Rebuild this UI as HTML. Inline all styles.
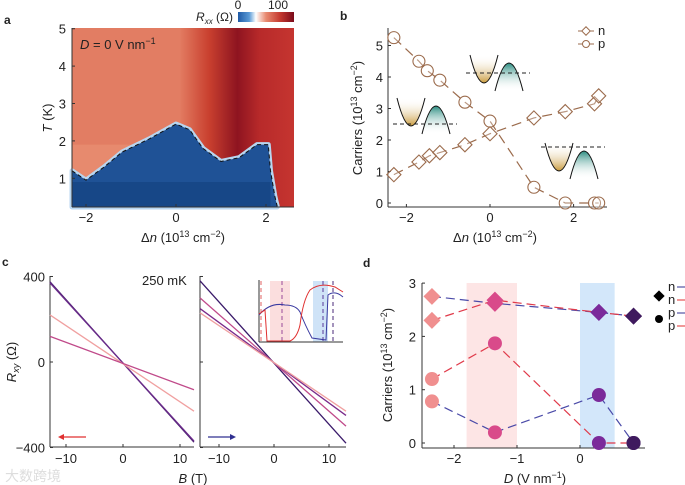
<!DOCTYPE html>
<html><head><meta charset="utf-8"><style>
body{margin:0;background:#fff;}
svg{display:block;font-family:"Liberation Sans","Noto Sans CJK SC",sans-serif;}
</style></head><body>
<svg id="fig" width="685" height="485" viewBox="0 0 685 485" xmlns="http://www.w3.org/2000/svg">
<defs>
<linearGradient id="cbar" x1="0" x2="1"><stop offset="0" stop-color="#1f5aa6"/><stop offset="0.2" stop-color="#5a9ad6"/><stop offset="0.32" stop-color="#ffffff"/><stop offset="0.5" stop-color="#e88a70"/><stop offset="0.75" stop-color="#c53a30"/><stop offset="1" stop-color="#7a0a1a"/></linearGradient>
<linearGradient id="redband" x1="0" x2="1"><stop offset="0" stop-color="#e27a60"/><stop offset="0.25" stop-color="#c9402f"/><stop offset="0.5" stop-color="#8e1420"/><stop offset="0.7" stop-color="#b82a2a"/><stop offset="1" stop-color="#c53530"/></linearGradient>
<linearGradient id="gold" x1="0" y1="0" x2="0" y2="1"><stop offset="0" stop-color="#fff" stop-opacity="0"/><stop offset="1" stop-color="#c99a3c"/></linearGradient>
<linearGradient id="teal" x1="0" y1="0" x2="0" y2="1"><stop offset="0" stop-color="#2a8c80"/><stop offset="1" stop-color="#fff" stop-opacity="0"/></linearGradient>
</defs>
</svg>
<script>
const NS="http://www.w3.org/2000/svg";
const svg=document.getElementById('fig');
function mk(tag,attrs,parent,txt){const e=document.createElementNS(NS,tag);for(const k in attrs)e.setAttribute(k,attrs[k]);if(txt!==undefined)e.textContent=txt;(parent||svg).appendChild(e);return e;}

// ---------- Panel a data ----------
const aBoundaryX=[-2.31,-2.0,-1.6,-1.2,-0.6,0.0,0.3,0.6,1.0,1.4,1.8,2.05,2.1,2.2,2.25];
const aBoundaryT=[1.2,0.95,1.3,1.7,2.05,2.45,2.3,1.8,1.45,1.55,1.9,1.9,1.2,0.5,0.25];
const aXTicks=[-2,0,2];
const aYTicks=[1,2,3,4,5];
// ---------- Panel b data ----------
const bX_n=[-2.3,-1.7,-1.45,-1.2,-0.6,0.0,1.05,1.8,2.5,2.6];
const bY_n=[0.9,1.3,1.5,1.6,1.85,2.2,2.7,2.9,3.15,3.4];
const bX_p=[-2.3,-1.7,-1.5,-1.2,-0.6,0.0,1.05,1.8,2.5,2.6];
const bY_p=[5.25,4.5,4.2,3.9,3.2,2.6,0.5,0.0,0.0,0.0];
const bXTicks=[-2,0,2];
const bYTicks=[0,1,2,3,4,5];
// ---------- Panel c data (endpoints at B=-13.5 and 13.5) ----------
const cLeftStart=[375,370,220,120];
const cLeftEnd=[-375,-370,-230,-130];
const cLeftColors=["#4a2070","#6a2a8a","#f0a0a0","#c04a8a"];
const cRightStart=[380,300,250,230];
const cRightEnd=[-380,-300,-250,-230];
const cRightColors=["#3a1a6a","#c04a8a","#7a2a8a","#f0a0a0"];
const cXTicks=[-10,0,10];
const cYTicks=[-400,0,400];
// ---------- Panel d data ----------
const dD=[-2.35,-1.35,0.3,0.85];
const dNfwd=[2.75,2.62,2.45,2.38];
const dNbwd=[2.3,2.68,2.45,2.38];
const dPfwd=[0.78,0.2,0.9,0.0];
const dPbwd=[1.2,1.87,0.0,0.0];
const dColors=["#f08f8f","#d94a8a","#7b2a9a","#3f1a5e"];
const dXTicks=[-2,-1,0];
const dYTicks=[0,1,2,3];

function txt(x,y,s,attrs,name){const t=mk('text',Object.assign({x:x,y:y,'font-size':13,fill:'#222'},attrs||{}),null,s);

return t;}

// ===== Panel a =====
const ax=v=>176+(v)*45, ay=v=>28.7+(5-v)*37.4;
txt(4,24,'a',{'font-weight':'bold','font-size':12},'panel-a-label');
const ga=mk('g',{});
mk('rect',{x:72,y:28,width:222,height:179,fill:'#e27d63'},ga);
mk('rect',{x:ax(0.1),y:28,width:294-ax(0.1),height:179,fill:'url(#redband)'},ga);
mk('rect',{x:72,y:ay(1.9),width:ax(0.1)-72,height:207-ay(1.9),fill:'#e78a6e'},ga);
let bp='M72 207 ';aBoundaryX.forEach((v,i)=>bp+='L'+ax(v)+' '+ay(aBoundaryT[i])+' ');bp+='L'+ax(2.25)+' 207Z';
mk('path',{d:bp,fill:'#2a5da3',stroke:'#b8d6f0','stroke-width':5,'stroke-linejoin':'round'},ga);
mk('path',{d:bp,fill:'#1f5296'},ga);
mk('rect',{x:72,y:ay(0.9),width:ax(2.1)-72,height:207-ay(0.9),fill:'#174787'},ga);
let dl='';aBoundaryX.forEach((v,i)=>dl+=(i?'L':'M')+ax(v)+' '+ay(aBoundaryT[i])+' ');
const dash=mk('path',{d:dl,fill:'none',stroke:'#111','stroke-width':1,'stroke-dasharray':'4 3'});
mk('line',{x1:72,y1:28,x2:72,y2:207,stroke:'#333'});mk('line',{x1:72,y1:207,x2:294,y2:207,stroke:'#333'});
aXTicks.forEach(v=>{mk('line',{x1:ax(v),y1:207,x2:ax(v),y2:204,stroke:'#333'});txt(ax(v),222,v<0?'−'+Math.abs(v):v,{'text-anchor':'middle'},'x-tick-label');});
aYTicks.forEach(v=>{mk('line',{x1:72,y1:ay(v),x2:75,y2:ay(v),stroke:'#333'});txt(66,ay(v)+5,v,{'text-anchor':'end'},'y-tick-label');});
const ta=txt(183,242,'',{'text-anchor':'middle'},'x-axis-title');ta.innerHTML='Δ<tspan font-style="italic">n</tspan> (10<tspan font-size="9" dy="-5">13</tspan><tspan dy="5"> cm</tspan><tspan font-size="9" dy="-5">−2</tspan><tspan dy="5">)</tspan>';
const tya=txt(0,0,'',{transform:'translate(52,118) rotate(-90)','text-anchor':'middle'},'y-axis-title');tya.innerHTML='<tspan font-style="italic">T</tspan> (K)';
const dlab=txt(80,49,'',{'font-size':13},'annotation');dlab.innerHTML='<tspan font-style="italic">D</tspan> = 0 V nm<tspan font-size="9" dy="-5">−1</tspan>';
const cb=mk('rect',{x:238,y:12,width:56,height:10,fill:'url(#cbar)'});
txt(238,9,'0',{'font-size':12,'text-anchor':'middle'},'colorbar-tick');txt(278,9,'100',{'font-size':12,'text-anchor':'middle'},'colorbar-tick');
const cbt=txt(233,21,'',{'text-anchor':'end','font-size':12},'colorbar-title');cbt.innerHTML='<tspan font-style="italic">R</tspan><tspan font-style="italic" font-size="8" dy="3">xx</tspan><tspan dy="-3"> (Ω)</tspan>';

// ===== Panel b =====
const bx=v=>490+v*41.8, by=v=>203-v*31.5;
txt(340,20,'b',{'font-weight':'bold','font-size':12},'panel-b-label');
const bc='#9b6b4c';
mk('line',{x1:388,y1:28,x2:388,y2:207,stroke:'#333'});mk('line',{x1:388,y1:207,x2:607,y2:207,stroke:'#333'});
bXTicks.forEach(v=>{mk('line',{x1:bx(v),y1:207,x2:bx(v),y2:204,stroke:'#333'});txt(bx(v),222,v<0?'−'+Math.abs(v):v,{'text-anchor':'middle'},'x-tick-label');});
bYTicks.forEach(v=>{mk('line',{x1:388,y1:by(v),x2:391,y2:by(v),stroke:'#333'});txt(383,by(v)+5,v,{'text-anchor':'end'},'y-tick-label');});
const tb=txt(495,242,'',{'text-anchor':'middle'},'x-axis-title');tb.innerHTML=ta.innerHTML;
const tyb=txt(0,0,'',{transform:'translate(362,118) rotate(-90)','text-anchor':'middle'},'y-axis-title');tyb.innerHTML='Carriers (10<tspan font-size="9" dy="-5">13</tspan><tspan dy="5"> cm</tspan><tspan font-size="9" dy="-5">−2</tspan><tspan dy="5">)</tspan>';
function seriesLine(X,Y,fx,fy,color,dasharr,name){let d='';X.forEach((v,i)=>d+=(i?'L':'M')+fx(v)+' '+fy(Y[i])+' ');const p=mk('path',{d:d,fill:'none',stroke:color,'stroke-width':1.2,'stroke-dasharray':dasharr});}
seriesLine(bX_n,bY_n,bx,by,bc,'10 6','n-line');seriesLine(bX_p,bY_p,bx,by,bc,'10 6','p-line');
bX_n.forEach((v,i)=>{const r=mk('rect',{x:bx(v)-5,y:by(bY_n[i])-5,width:10,height:10,fill:'#fff','fill-opacity':0.3,stroke:bc,'stroke-width':1.1,transform:`rotate(45 ${bx(v)} ${by(bY_n[i])})`});});
bX_p.forEach((v,i)=>{const c=mk('circle',{cx:bx(v),cy:by(bY_p[i]),r:6,fill:'#fff','fill-opacity':0.3,stroke:bc,'stroke-width':1.1});});
// legend
mk('line',{x1:578,y1:31,x2:594,y2:31,stroke:bc});mk('rect',{x:583,y:28,width:6,height:6,fill:'#fff',stroke:bc,transform:'rotate(45 586 31)'});txt(598,35,'n',{},'legend-n');
mk('line',{x1:578,y1:44,x2:594,y2:44,stroke:bc});mk('circle',{cx:586,cy:44,r:3.5,fill:'#fff',stroke:bc});txt(598,48,'p',{},'legend-p');
// band sketches
function bands(x,y,lvl,name){const g=mk('g',{transform:`translate(${x},${y})`});
mk('path',{d:'M0 0 Q14 56 28 0Z',fill:'url(#gold)'},g);mk('path',{d:'M0 0 Q14 56 28 0',fill:'none',stroke:'#111','stroke-width':1},g);
mk('path',{d:'M25 36 Q39 -20 53 36Z',fill:'url(#teal)'},g);mk('path',{d:'M25 36 Q39 -20 53 36',fill:'none',stroke:'#111','stroke-width':1},g);
mk('line',{x1:-4,y1:lvl,x2:60,y2:lvl,stroke:'#222','stroke-dasharray':'4 3'},g);}
bands(397,98,26,'band-diagram-left');bands(470,55,18,'band-diagram-middle');bands(545,143,4,'band-diagram-right');

// ===== Panel c =====
txt(2,266,'c',{'font-weight':'bold','font-size':12},'panel-c-label');
const cy=v=>362-v*0.2138;
const cxl=v=>123+v*5.7, cxr=v=>274+v*5.5;
[[50,194,cxl],[200,346,cxr]].forEach(([x0,x1,f],k)=>{
mk('line',{x1:x0,y1:276,x2:x0,y2:447,stroke:'#333'});mk('line',{x1:x0,y1:447,x2:x1,y2:447,stroke:'#333'});
cXTicks.forEach(v=>{mk('line',{x1:f(v),y1:447,x2:f(v),y2:444,stroke:'#333'});txt(f(v),463,v<0?'−'+Math.abs(v):v,{'text-anchor':'middle'},'x-tick-label');});
cYTicks.forEach(v=>{mk('line',{x1:x0,y1:cy(v),x2:x0+3,y2:cy(v),stroke:'#333'});if(k==0)txt(45,cy(v)+5,v<0?'−'+Math.abs(v):v,{'text-anchor':'end'},'y-tick-label');});
const S=k?cRightStart:cLeftStart,E=k?cRightEnd:cLeftEnd,C=k?cRightColors:cLeftColors;
S.forEach((s,i)=>{const x0c=f(-13.5)<x0?x0:f(-13.5),x1c=Math.min(f(13.5),x1);const l=mk('line',{x1:x0c,y1:cy(s),x2:x1c,y2:cy(E[i]),stroke:C[i],'stroke-width':1.3});});
});
const tc=txt(193,483,'',{'text-anchor':'middle'},'x-axis-title');tc.innerHTML='<tspan font-style="italic">B</tspan> (T)';
const tyc=txt(0,0,'',{transform:'translate(16,362) rotate(-90)','text-anchor':'middle'},'y-axis-title');tyc.innerHTML='<tspan font-style="italic">R</tspan><tspan font-style="italic" font-size="9" dy="3">xy</tspan><tspan dy="-3"> (Ω)</tspan>';
txt(142,285,'250 mK',{},'temperature-label');
mk('line',{x1:60,y1:437,x2:86,y2:437,stroke:'#e03030','stroke-width':1.2});mk('path',{d:'M58 437 L64 434 L64 440Z',fill:'#e03030'});
mk('line',{x1:208,y1:437,x2:234,y2:437,stroke:'#303090','stroke-width':1.2});mk('path',{d:'M236 437 L230 434 L230 440Z',fill:'#303090'});
// inset
const gi=mk('g',{});
mk('rect',{x:270,y:281,width:20,height:61,fill:'#fbdede'},gi);mk('rect',{x:313,y:281,width:15,height:61,fill:'#cfe3f7'},gi);
mk('line',{x1:259,y1:280,x2:259,y2:342,stroke:'#333'},gi);mk('line',{x1:259,y1:342,x2:343,y2:342,stroke:'#333'},gi);
[[261,'#e06060'],[282,'#9a4a9a'],[323,'#5a3a9a'],[333,'#4a2a7a']].forEach(([x,c])=>mk('line',{x1:x,y1:281,x2:x,y2:342,stroke:c,'stroke-dasharray':'4 3'},gi));
mk('path',{d:'M259 315 Q270 302 285 305 Q296 305 300 312 Q305 325 312 338 L326 340 L328 295 Q335 290 343 297',fill:'none',stroke:'#3a3aa0','stroke-width':1},gi);
mk('path',{d:'M259 314 L265 310 L267 341 L290 341 Q297 338 300 325 Q303 300 310 290 Q320 282 335 287 L343 292',fill:'none',stroke:'#e03030','stroke-width':1},gi);
txt(5,481,'大数跨境',{'font-size':14,fill:'#ddd'},'watermark');

// ===== Panel d =====
txt(363,267,'d',{'font-weight':'bold','font-size':12},'panel-d-label');
const dx=v=>580+v*63, dy=v=>443-v*53.3;
const pb=mk('rect',{x:dx(-1.8),y:283,width:dx(-1.0)-dx(-1.8),height:165,fill:'#fde5e5'});
const bb=mk('rect',{x:dx(0),y:283,width:dx(0.55)-dx(0),height:165,fill:'#d3e7fa'});
mk('line',{x1:422,y1:283,x2:422,y2:448,stroke:'#333'});mk('line',{x1:422,y1:448,x2:645,y2:448,stroke:'#333'});
dXTicks.forEach(v=>{mk('line',{x1:dx(v),y1:448,x2:dx(v),y2:445,stroke:'#333'});txt(dx(v),463,v<0?'−'+Math.abs(v):v,{'text-anchor':'middle'},'x-tick-label');});
dYTicks.forEach(v=>{mk('line',{x1:422,y1:dy(v),x2:425,y2:dy(v),stroke:'#333'});txt(416,dy(v)+5,v,{'text-anchor':'end'},'y-tick-label');});
const td=txt(535,483,'',{'text-anchor':'middle'},'x-axis-title');td.innerHTML='<tspan font-style="italic">D</tspan> (V nm<tspan font-size="9" dy="-5">−1</tspan><tspan dy="5">)</tspan>';
const tyd=txt(0,0,'',{transform:'translate(392,365) rotate(-90)','text-anchor':'middle'},'y-axis-title');tyd.innerHTML=tyb.innerHTML;
seriesLine(dD,dNfwd,dx,dy,'#4a4aa8','9 5','n-forward-line');seriesLine(dD,dNbwd,dx,dy,'#e03a4a','9 5','n-backward-line');
seriesLine(dD,dPfwd,dx,dy,'#4a4aa8','9 5','p-forward-line');seriesLine(dD,dPbwd,dx,dy,'#e03a4a','9 5','p-backward-line');
[dNfwd,dNbwd].forEach(arr=>dD.forEach((v,i)=>{const r=mk('rect',{x:dx(v)-6,y:dy(arr[i])-6,width:12,height:12,fill:dColors[i],transform:`rotate(45 ${dx(v)} ${dy(arr[i])})`});}));
[dPfwd,dPbwd].forEach(arr=>dD.forEach((v,i)=>{const c=mk('circle',{cx:dx(v),cy:dy(arr[i]),r:7,fill:dColors[i]});}));
// legend d
mk('rect',{x:655,y:292,width:8,height:8,fill:'#000',transform:'rotate(45 659 296)'});
mk('circle',{cx:659,cy:319,r:4,fill:'#000'});
[['n',291,'#303090','r'],['n',304,'#e03030','l'],['p',317,'#303090','r'],['p',330,'#e03030','l']].forEach(([s,y,c,d])=>{
txt(668,y,s,{'font-size':13},'legend-'+s);
mk('line',{x1:677,y1:y-4,x2:685,y2:y-4,stroke:c});});
</script>
</body></html>
